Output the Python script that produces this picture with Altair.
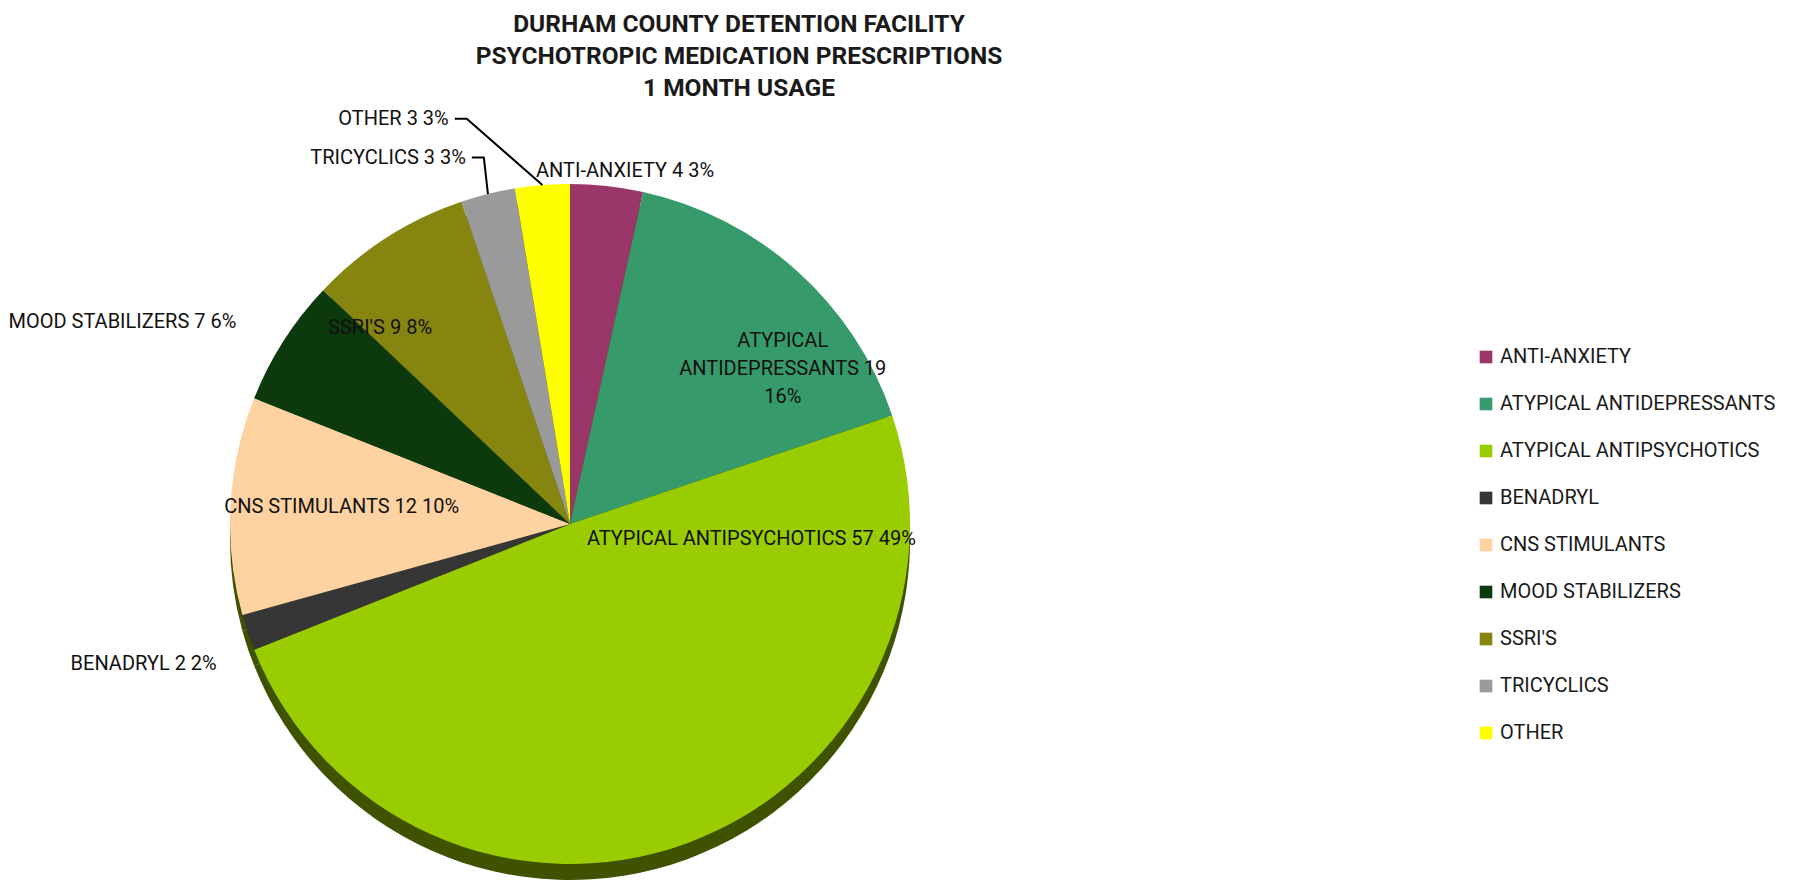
import math
import altair as alt
import pandas as pd

# ---------------- data ----------------
CATEGORIES = [
    "ANTI-ANXIETY",
    "ATYPICAL ANTIDEPRESSANTS",
    "ATYPICAL ANTIPSYCHOTICS",
    "BENADRYL",
    "CNS STIMULANTS",
    "MOOD STABILIZERS",
    "SSRI'S",
    "TRICYCLICS",
    "OTHER",
]
COUNTS = [4, 19, 57, 2, 12, 7, 9, 3, 3]
COLORS = [
    "#9B3668",
    "#379A6A",
    "#9ACC02",
    "#363636",
    "#FFD2A2",
    "#0C3A0C",
    "#85850F",
    "#9A9A9A",
    "#FFFF00",
]
TITLE_LINES = [
    "DURHAM COUNTY DETENTION FACILITY",
    "PSYCHOTROPIC MEDICATION PRESCRIPTIONS",
    "1 MONTH USAGE",
]

# ---------------- layout / style ----------------
FONT = "Roboto"
W, H = 1790, 766
CX, CY = 562, 419          # pie centre inside the plot area
R = 340                    # pie radius
DEPTH = 16                 # 3-D side thickness
SIDE_COLOR = "#3E5200"
LABEL_SIZE = 20
LINE_H = 28

# label placement: (distance from centre, angle nudge from slice mid-angle in deg, align)
LABEL_LAYOUT = {
    "ANTI-ANXIETY": (355, -11.7, "left"),
    "ATYPICAL ANTIDEPRESSANTS": (263, 12.1, "center"),
    "ATYPICAL ANTIPSYCHOTICS": (182, -65.1, "center"),
    "BENADRYL": (380, -3.0, "right"),
    "CNS STIMULANTS": (229, 1.2, "center"),
    "MOOD STABILIZERS": (390, -1.4, "right"),
    "SSRI'S": (273, -11.5, "center"),
    "TRICYCLICS": (381, -1.9, "right"),
    "OTHER": (423, -12.0, "right"),
}
LEADERS = ["TRICYCLICS", "OTHER"]
WRAPPED = {"ATYPICAL ANTIDEPRESSANTS": "ATYPICAL\nANTIDEPRESSANTS {n}\n{p}%"}

# ---------------- build tables ----------------
total = sum(COUNTS)
rows = []
cum = 0
for i, (cat, n) in enumerate(zip(CATEGORIES, COUNTS)):
    pct = round(100 * n / total)
    mid = 2 * math.pi * (cum + n / 2) / total
    cum += n
    dist, nudge, align = LABEL_LAYOUT[cat]
    a = mid + math.radians(nudge)
    lx = CX + dist * math.sin(a)
    ly = CY - dist * math.cos(a)
    if cat in WRAPPED:
        label = WRAPPED[cat].format(n=n, p=pct)
    else:
        label = f"{cat} {n} {pct}%"
    nlines = label.count("\n") + 1
    ly -= (nlines - 1) / 2 * LINE_H   # centre multi-line blocks
    rows.append(dict(cat=cat, count=n, order=i, pct=pct, label=label,
                     align=align, lx=lx, ly=ly, mid=mid))
df = pd.DataFrame(rows)

lead_rows = []
for r in rows:
    if r["cat"] in LEADERS:
        sx, sy = r["lx"] + 6, r["ly"]
        ex = CX + R * math.sin(r["mid"])
        ey = CY - R * math.cos(r["mid"])
        pts = [(sx, sy), (sx + 12, sy), (ex, ey)]
        for k, (px, py) in enumerate(pts):
            lead_rows.append(dict(cat=r["cat"], step=k, px=px, py=py))
lead = pd.DataFrame(lead_rows)

color_scale = alt.Scale(domain=CATEGORIES, range=COLORS)

side = alt.Chart(df).mark_arc(radius=R, color=SIDE_COLOR).encode(
    theta=alt.Theta("count:Q", stack=True),
    order=alt.Order("order:Q"),
    x=alt.value(CX),
    y=alt.value(CY + DEPTH),
)

pie = alt.Chart(df).mark_arc(radius=R).encode(
    theta=alt.Theta("count:Q", stack=True),
    order=alt.Order("order:Q"),
    color=alt.Color(
        "cat:N",
        scale=color_scale,
        sort=CATEGORIES,
        legend=alt.Legend(
            title=None,
            orient="none",
            legendX=1468,
            legendY=242,
            symbolType="square",
            symbolSize=160,
            symbolStrokeWidth=0,
            labelFont=FONT,
            labelFontSize=LABEL_SIZE,
            labelColor="#1a1a1a",
            labelOffset=4,
            labelLimit=500,
            rowPadding=27,
            padding=0,
        ),
    ),
    x=alt.value(CX),
    y=alt.value(CY),
)

leaders = alt.Chart(lead).mark_line(color="#000000", strokeWidth=2).encode(
    x=alt.X("px:Q", scale=None, axis=None),
    y=alt.Y("py:Q", scale=None, axis=None),
    detail="cat:N",
    order="step:Q",
)

def text_layer(align):
    return alt.Chart(df).transform_filter(
        alt.datum.align == align
    ).mark_text(
        font=FONT, fontSize=LABEL_SIZE, color="#111111", align=align,
        baseline="middle", lineBreak="\n", lineHeight=LINE_H,
    ).encode(
        x=alt.X("lx:Q", scale=None, axis=None),
        y=alt.Y("ly:Q", scale=None, axis=None),
        text="label:N",
    )

chart = alt.layer(
    side, pie, leaders, text_layer("left"), text_layer("center"), text_layer("right")
).properties(
    width=W,
    height=H,
    padding={"top": 3, "left": 0, "right": 0, "bottom": 0},
    title=alt.Title(
        TITLE_LINES,
        font=FONT,
        fontSize=24.5,
        fontWeight="bold",
        color="#1a1a1a",
        lineHeight=32,
        anchor="middle",
        frame="group",
        dx=-164,
        offset=4,
    ),
).configure_view(stroke=None)

chart.save("out.html", embed_options={"renderer": "svg", "actions": False})
